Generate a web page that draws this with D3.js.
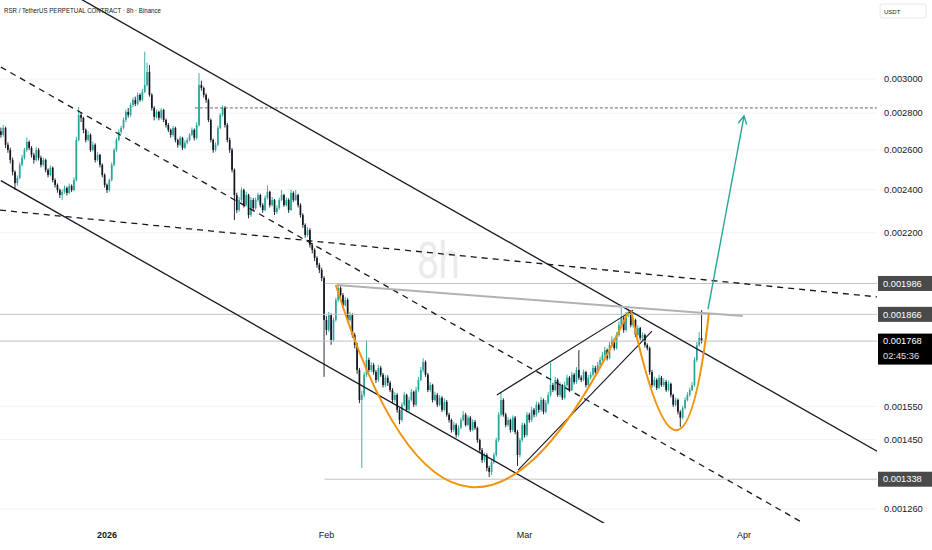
<!DOCTYPE html>
<html>
<head>
<meta charset="utf-8">
<script src="https://cdn.jsdelivr.net/npm/d3@7"></script>
<style>
  body { margin: 0; background: #fff; }
  svg { display: block; font-family: "Liberation Sans", Arial, sans-serif; }
</style>
</head>
<body>
<svg id="chart" width="932" height="550"></svg>
<script>
// RSR/USDT perp, 8h bars. Prices are stored as price x 1e6 (2680 = 0.002680).
const startTime = "2025-12-17T00:00:00Z";
const barHours = 8;
const firstOpen = 2700;

const closes = [
  2680,2718,2627,2600,2548,2487,2432,2457,2523,2559,2600,2642,2611,2574,2548,2600,2559,2523,2548,2497,
  2472,2508,2447,2423,2398,2374,2389,2408,2384,2418,2398,2447,2653,2790,2774,2707,2653,2680,2600,2627,
  2548,2574,2523,2472,2423,2398,2447,2523,2600,2653,2696,2718,2762,2807,2790,2847,2876,2853,2905,2876,
  2923,2964,3043,2905,2830,2779,2807,2774,2818,2762,2734,2707,2680,2718,2653,2627,2664,2611,2637,2653,
  2680,2707,2664,2734,2964,2946,2905,2876,2762,2653,2600,2627,2718,2790,2830,2734,2653,2600,2497,2374,
  2303,2350,2398,2326,2374,2280,2350,2312,2350,2374,2326,2303,2360,2389,2326,2350,2294,2312,2350,2374,
  2326,2350,2303,2384,2350,2374,2326,2280,2235,2190,2212,2147,2125,2091,2062,2041,2008,1845,1808,1863,
  1772,1845,1921,1968,1940,1901,1921,1845,1863,1790,1754,1668,1570,1586,1652,1702,1668,1685,1661,1635,
  1675,1652,1618,1642,1625,1602,1570,1586,1539,1508,1555,1586,1539,1570,1596,1555,1602,1635,1668,1695,
  1652,1602,1618,1570,1586,1555,1577,1539,1564,1524,1508,1478,1493,1463,1484,1508,1524,1493,1515,1478,
  1502,1484,1448,1419,1391,1405,1369,1358,1385,1405,1448,1524,1570,1524,1493,1508,1478,1515,1472,1405,
  1448,1493,1463,1524,1508,1539,1524,1555,1539,1570,1533,1561,1586,1618,1602,1635,1586,1618,1577,1618,
  1642,1602,1652,1628,1668,1642,1635,1661,1618,1642,1652,1675,1661,1685,1702,1719,1736,1709,1754,1772,
  1743,1790,1826,1852,1808,1863,1874,1826,1845,1790,1815,1779,1790,1754,1743,1661,1618,1635,1609,1642,
  1618,1628,1602,1622,1586,1555,1570,1533,1515,1545,1570,1586,1602,1618,1702,1754,1779,1768
];

const highs = [
  2720,2735,2725,2640,2612,2560,2495,2470,2535,2575,2612,2665,2650,2620,2585,2615,2610,2570,2560,2555,
  2505,2520,2515,2455,2430,2405,2400,2420,2415,2430,2425,2460,2670,2835,2805,2780,2715,2700,2688,2645,
  2635,2590,2580,2530,2480,2430,2455,2535,2610,2665,2710,2730,2775,2820,2830,2860,2890,2895,2920,2915,
  2940,3170,3100,3085,2915,2840,2820,2815,2830,2825,2770,2745,2715,2730,2725,2660,2675,2670,2650,2665,
  2690,2720,2715,2750,3036,2990,2955,2915,2885,2770,2660,2640,2730,2800,2845,2840,2745,2665,2610,2505,
  2385,2365,2410,2405,2390,2380,2365,2360,2362,2385,2380,2335,2372,2420,2395,2365,2355,2325,2362,2398,
  2380,2362,2358,2400,2392,2398,2380,2335,2288,2242,2225,2220,2155,2132,2098,2070,2050,2015,1860,1875,
  1870,1855,1930,1985,1975,1948,1932,1928,1875,1870,1798,1762,1675,1600,1662,1772,1710,1695,1692,1668,
  1685,1682,1658,1650,1650,1632,1608,1595,1592,1545,1562,1595,1590,1580,1605,1600,1612,1645,1678,1708,
  1700,1658,1628,1622,1596,1592,1586,1582,1575,1570,1530,1512,1502,1498,1492,1515,1535,1530,1522,1520,
  1510,1508,1488,1452,1425,1412,1410,1375,1392,1412,1455,1532,1593,1575,1530,1516,1512,1522,1520,1478,
  1455,1500,1498,1532,1530,1548,1545,1565,1562,1580,1575,1570,1596,1692,1625,1645,1640,1628,1622,1630,
  1652,1648,1662,1658,1678,1736,1650,1670,1665,1652,1662,1685,1682,1695,1712,1730,1748,1742,1765,1785,
  1778,1800,1840,1890,1860,1875,1888,1880,1858,1850,1825,1820,1800,1795,1760,1748,1668,1645,1640,1652,
  1648,1640,1635,1632,1626,1590,1578,1575,1538,1552,1578,1595,1610,1628,1712,1765,1800,1882
];

const lows = [
  2665,2670,2610,2585,2530,2470,2398,2420,2450,2515,2550,2590,2600,2560,2530,2540,2545,2510,2515,2485,
  2460,2465,2435,2410,2385,2360,2350,2380,2372,2378,2388,2392,2440,2645,2750,2690,2640,2645,2590,2592,
  2535,2540,2510,2460,2410,2384,2390,2440,2515,2590,2645,2685,2710,2750,2775,2780,2835,2840,2845,2865,
  2870,2915,2955,2895,2815,2760,2770,2760,2765,2750,2720,2695,2665,2670,2640,2612,2620,2600,2605,2630,
  2645,2675,2650,2655,2725,2930,2890,2860,2750,2640,2585,2592,2620,2710,2780,2720,2640,2585,2485,2257,
  2290,2295,2340,2315,2320,2265,2272,2300,2305,2342,2315,2290,2298,2352,2315,2320,2280,2285,2305,2345,
  2318,2320,2290,2298,2340,2345,2315,2268,2222,2178,2182,2135,2110,2078,2050,2028,1995,1645,1790,1800,
  1755,1765,1838,1912,1930,1890,1895,1835,1838,1780,1742,1655,1560,1369,1578,1645,1660,1660,1652,1625,
  1628,1645,1610,1612,1615,1595,1560,1562,1530,1495,1502,1550,1532,1533,1565,1548,1550,1596,1630,1660,
  1645,1595,1596,1562,1565,1548,1550,1532,1535,1518,1500,1470,1472,1455,1458,1480,1503,1488,1489,1472,
  1474,1478,1440,1410,1383,1385,1360,1344,1350,1380,1400,1442,1518,1518,1486,1488,1470,1472,1465,1374,
  1398,1442,1455,1458,1500,1502,1516,1518,1530,1533,1525,1528,1555,1580,1595,1598,1580,1580,1570,1572,
  1612,1595,1598,1620,1622,1635,1628,1630,1610,1612,1636,1646,1655,1656,1678,1695,1712,1700,1704,1748,
  1735,1738,1784,1820,1798,1802,1855,1818,1818,1782,1785,1770,1772,1745,1735,1652,1610,1612,1602,1605,
  1612,1612,1596,1598,1578,1548,1550,1525,1487,1510,1540,1565,1580,1598,1612,1695,1748,1760
];

// price scale ticks and time scale labels
const priceTicks = [3000, 2800, 2600, 2400, 2200, 1550, 1450, 1260];
const monthTicks = [["2026-01-01", "2026"], ["2026-02-01", "Feb"], ["2026-03-01", "Mar"], ["2026-04-01", "Apr"]];

// horizontal levels: [price, start time or null for full width, label]
const levels = [
  [1986, "2026-01-31T18:00:00Z", "0.001986"],
  [1866, null, "0.001866"],
  [1768, null, "0.001768"],
  [1338, "2026-01-31T18:00:00Z", "0.001338"]
];
const countdown = "02:45:36";
const targetLevel = [2830, "2026-01-13T10:00:00Z"];

// drawings, anchor points as [time, price x 1e6]
const channelUpper = [["2026-01-01T00:00:00Z", 3421], ["2026-04-01T00:00:00Z", 1649]];
const channelMid = [["2026-01-01T00:00:00Z", 2721], ["2026-04-01T00:00:00Z", 1311]];
const channelLower = [["2026-01-01T00:00:00Z", 2164], ["2026-04-01T00:00:00Z", 1043]];
const channelStart = "2025-12-17T00:00:00Z";
const slowTrend = [["2026-01-01T00:00:00Z", 2254], ["2026-04-01T00:00:00Z", 1985]];
const neckline = [["2026-02-02T12:00:00Z", 1980], ["2026-03-31T20:00:00Z", 1860]];
const wedgeUpper = [["2026-02-25T02:00:00Z", 1586], ["2026-03-16T08:00:00Z", 1882]];
const wedgeLower = [["2026-02-28T02:00:00Z", 1363], ["2026-03-19T00:00:00Z", 1804]];
const cupCurve = [["2026-02-02T08:00:00Z", 1980], ["2026-02-19T14:00:00Z", 901], ["2026-03-15T15:00:00Z", 1874]];
const handleCurve = [["2026-03-16T01:00:00Z", 1878], ["2026-03-23T06:00:00Z", 1164], ["2026-03-27T01:00:00Z", 1871]];
const targetArrow = [["2026-03-26T22:00:00Z", 1886], ["2026-04-01T00:00:00Z", 2784]];

const plotRight = 877, plotBottom = 523;
const upColor = "#26a69a", downColor = "#131722";

const P = v => v / 1e6;
const fmt = d3.format(".6f");

const x = d3.scaleUtc()
  .domain([new Date("2026-01-01T00:00:00Z"), new Date("2026-04-01T00:00:00Z")])
  .range([107, 744]);
const y = d3.scaleLog().domain([0.00126, 0.003]).range([509, 79]);

const t0 = new Date(startTime).getTime();
const candles = closes.map((c, i) => {
  const o = i ? closes[i - 1] : firstOpen;
  return {
    t: new Date(t0 + i * barHours * 3600e3),
    o: P(o), c: P(c),
    h: P(Math.max(highs[i], o, c)),
    l: P(Math.min(lows[i], o, c))
  };
});

const svg = d3.select("#chart");
svg.append("rect").attr("width", 932).attr("height", 550).attr("fill", "#fff");
svg.append("defs").append("clipPath").attr("id", "plot")
  .append("rect").attr("width", plotRight).attr("height", plotBottom);

// grid
svg.append("g").selectAll("line").data(priceTicks).join("line")
  .attr("x1", 0).attr("x2", plotRight)
  .attr("y1", d => y(P(d))).attr("y2", d => y(P(d)))
  .attr("stroke", "#f2f3f5").attr("stroke-width", 1);

// watermark
svg.append("text").attr("x", plotRight / 2 - 21).attr("y", 278)
  .attr("font-size", 52).attr("textLength", 42).attr("lengthAdjust", "spacingAndGlyphs")
  .attr("fill", "#ebebeb").text("8h");

const plot = svg.append("g").attr("clip-path", "url(#plot)");

// candles
const bars = plot.append("g").selectAll("g").data(candles).join("g")
  .attr("fill", d => d.c >= d.o ? upColor : downColor)
  .attr("stroke", d => d.c >= d.o ? upColor : downColor);
bars.append("line")
  .attr("x1", d => x(d.t)).attr("x2", d => x(d.t))
  .attr("y1", d => y(d.h)).attr("y2", d => y(d.l))
  .attr("stroke-width", 0.9);
bars.append("rect")
  .attr("x", d => x(d.t) - 0.85).attr("width", 1.7)
  .attr("y", d => y(Math.max(d.o, d.c)))
  .attr("height", d => Math.max(0.8, Math.abs(y(d.o) - y(d.c))))
  .attr("stroke", "none");

// helpers for drawings
const pt = ([d, v]) => [x(new Date(d)), y(P(v))];
function extended(pts, xa, xb) {
  const [[x1, y1], [x2, y2]] = pts.map(pt);
  const k = (y2 - y1) / (x2 - x1);
  return [[xa, y1 + k * (xa - x1)], [xb, y1 + k * (xb - x1)]];
}
const line = d3.line();
const draw = plot.append("g").attr("fill", "none");

// horizontal levels
levels.forEach(([v, start]) => {
  draw.append("line")
    .attr("x1", start ? x(new Date(start)) : 0).attr("x2", plotRight)
    .attr("y1", y(P(v))).attr("y2", y(P(v)))
    .attr("stroke", "#c2c2c2").attr("stroke-width", 1);
});
draw.append("line")
  .attr("x1", x(new Date(targetLevel[1]))).attr("x2", plotRight)
  .attr("y1", y(P(targetLevel[0]))).attr("y2", y(P(targetLevel[0])))
  .attr("stroke", "#444").attr("stroke-width", 0.8).attr("stroke-dasharray", "3,2");

// channel
const cx0 = x(new Date(channelStart));
draw.append("path").attr("d", line(extended(channelUpper, cx0, plotRight)))
  .attr("stroke", "#131722").attr("stroke-width", 1.3);
draw.append("path").attr("d", line(extended(channelLower, cx0, plotRight)))
  .attr("stroke", "#131722").attr("stroke-width", 1.3);
draw.append("path").attr("d", line(extended(channelMid, cx0, plotRight)))
  .attr("stroke", "#131722").attr("stroke-width", 1.3).attr("stroke-dasharray", "6,5");
draw.append("path").attr("d", line(extended(slowTrend, 0, plotRight)))
  .attr("stroke", "#131722").attr("stroke-width", 1.3).attr("stroke-dasharray", "6,5");

// neckline and wedge
draw.append("path").attr("d", line(neckline.map(pt)))
  .attr("stroke", "#b2b2b2").attr("stroke-width", 2);
draw.append("path").attr("d", line(wedgeUpper.map(pt)))
  .attr("stroke", "#131722").attr("stroke-width", 1.1);
draw.append("path").attr("d", line(wedgeLower.map(pt)))
  .attr("stroke", "#131722").attr("stroke-width", 1.1);

// cup and handle curves
[cupCurve, handleCurve].forEach(c => {
  const [a, b, e] = c.map(pt);
  draw.append("path").attr("d", `M${a}Q${b} ${e}`)
    .attr("stroke", "#f0930e").attr("stroke-width", 2);
});

// target arrow
const [a0, a1] = targetArrow.map(pt);
const ang = Math.atan2(a1[1] - a0[1], a1[0] - a0[0]);
const arm = s => [a1[0] + 9 * Math.cos(ang + Math.PI + s), a1[1] + 9 * Math.sin(ang + Math.PI + s)];
draw.append("path").attr("d", line([a0, a1]))
  .attr("stroke", upColor).attr("stroke-width", 1.4);
draw.append("path").attr("d", line([arm(0.5), a1, arm(-0.5)]))
  .attr("stroke", upColor).attr("stroke-width", 1.4);

// header
svg.append("text").attr("x", 4).attr("y", 13).attr("font-size", 8)
  .attr("textLength", 157).attr("lengthAdjust", "spacingAndGlyphs")
  .attr("fill", "#131722").text("RSR / TetherUS PERPETUAL CONTRACT · 8h · Binance");

// currency button
svg.append("rect").attr("x", 880).attr("y", 4).attr("width", 46).attr("height", 14).attr("rx", 2)
  .attr("fill", "#fff").attr("stroke", "#e6e8ee");
svg.append("text").attr("x", 884).attr("y", 13.5).attr("font-size", 6)
  .attr("fill", "#131722").text("USDT");

// price scale
svg.append("g").selectAll("text").data(priceTicks).join("text")
  .attr("x", 884).attr("y", d => y(P(d))).attr("dy", "0.35em")
  .attr("font-size", 9.3).attr("fill", "#131722").text(d => fmt(P(d)));

levels.forEach(([v, , label]) => {
  const yy = y(P(v));
  const last = label === fmt(P(closes[closes.length - 1]));
  const g = svg.append("g");
  g.append("rect").attr("x", 878).attr("width", 54)
    .attr("y", yy - 7.5).attr("height", last ? 31 : 15)
    .attr("fill", last ? "#000" : "#4a4a4a");
  g.append("text").attr("x", 883).attr("y", yy).attr("dy", "0.35em")
    .attr("font-size", 9.3).attr("fill", "#fff").text(label);
  if (last) {
    g.append("text").attr("x", 883).attr("y", yy + 15).attr("dy", "0.35em")
      .attr("font-size", 9.3).attr("fill", "#e0e0e0").text(countdown);
  }
});

// time scale
svg.append("g").selectAll("text").data(monthTicks).join("text")
  .attr("x", d => x(new Date(d[0] + "T00:00:00Z"))).attr("y", 535).attr("dy", "0.35em")
  .attr("text-anchor", "middle").attr("font-size", 9).attr("fill", "#131722")
  .attr("font-weight", d => /^\d+$/.test(d[1]) ? "bold" : "normal")
  .text(d => d[1]);
</script>
</body>
</html>
